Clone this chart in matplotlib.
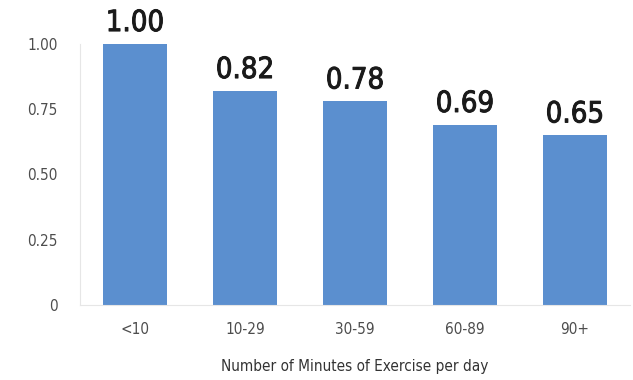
import matplotlib.pyplot as plt
import matplotlib.patheffects as pe

plt.rcParams['font.family'] = ['Liberation Sans Narrow', 'DejaVu Sans']
plt.rcParams['font.stretch'] = 'condensed'

categories = ['<10', '10-29', '30-59', '60-89', '90+']
values = [1.00, 0.82, 0.78, 0.69, 0.65]
yticks = [0, 0.25, 0.50, 0.75, 1.00]
ytick_labels = ['0', '0.25', '0.50', '0.75', '1.00']

fig = plt.figure(figsize=(6.33, 3.80), dpi=100)
ax = fig.add_axes([80 / 633, 75 / 380, 550 / 633, 261 / 380])

x = range(len(categories))
bars = ax.bar(x, values, width=0.58, color='#5b8fcf')

# value labels above each bar, slightly thickened
for rect, v in zip(bars, values):
    ax.annotate(f'{v:.2f}', (rect.get_x() + rect.get_width() / 2, v),
                xytext=(0, 5), textcoords='offset points',
                ha='center', va='bottom', fontsize=21, color='#1a1a1a',
                annotation_clip=False,
                path_effects=[pe.withStroke(linewidth=0.7, foreground='#1a1a1a')])

ax.set_xlim(-0.5, len(categories) - 0.5)
ax.set_ylim(0, 1.0)
ax.set_xticks(list(x))
ax.set_xticklabels(categories)
ax.set_yticks(yticks)
ax.set_yticklabels(ytick_labels)
ax.tick_params(axis='both', length=0, labelsize=11, colors='#4d4d4d')
ax.tick_params(axis='x', pad=12)
ax.tick_params(axis='y', pad=16)

ax.set_xlabel('Number of Minutes of Exercise per day', fontsize=11,
              color='#333333', labelpad=16)

for side in ['top', 'right']:
    ax.spines[side].set_visible(False)
for side in ['left', 'bottom']:
    ax.spines[side].set_color('#e6e6e6')
    ax.spines[side].set_linewidth(0.8)

fig.savefig('out.png', dpi=100)
